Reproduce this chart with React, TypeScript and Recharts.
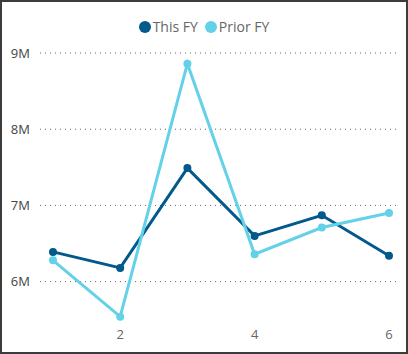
import { LineChart, Line, XAxis, YAxis, CartesianGrid } from 'recharts'

const periods = [1, 2, 3, 4, 5, 6]
const thisFy = [6.39e6, 6.18e6, 7.49e6, 6.6e6, 6.87e6, 6.34e6]
const priorFy = [6.28e6, 5.54e6, 8.86e6, 6.36e6, 6.71e6, 6.9e6]
const xTicks = [2, 4, 6]
const yTicks = [6e6, 7e6, 8e6, 9e6]

const THIS_COLOR = '#02598B'
const PRIOR_COLOR = '#63D1E8'
const FONT = '"Open Sans", "Noto Sans", sans-serif'

const chartData = periods.map((p, i) => ({
  period: p,
  'This FY': thisFy[i],
  'Prior FY': priorFy[i],
}))

function formatMillions(v: number): string {
  return `${Math.round(v / 1e6)}M`
}

function LegendRow() {
  const items = [
    { name: 'This FY', color: THIS_COLOR },
    { name: 'Prior FY', color: PRIOR_COLOR },
  ]
  return (
    <div
      style={{
        position: 'absolute',
        top: 17,
        left: 0,
        width: 408,
        display: 'flex',
        justifyContent: 'center',
        gap: 7,
        fontFamily: FONT,
        fontSize: 14,
        color: '#666',
        lineHeight: '20px',
      }}
    >
      {items.map((it) => (
        <div key={it.name} style={{ display: 'flex', alignItems: 'center' }}>
          <span
            style={{
              display: 'inline-block',
              width: 12,
              height: 12,
              borderRadius: '50%',
              background: it.color,
              marginRight: 2,
            }}
          />
          <span>{it.name}</span>
        </div>
      ))}
    </div>
  )
}

export default function App() {
  return (
    <div style={{ position: 'relative', width: 408, height: 354, background: '#fff' }}>
      <style>{'body { margin: 0; }'}</style>
      <LineChart
        width={408}
        height={354}
        data={chartData}
        margin={{ top: 40, right: 11, left: 0, bottom: 2 }}
      >
        {/* dotted guides only at the labelled values */}
        <CartesianGrid
          horizontal
          vertical={false}
          horizontalValues={yTicks}
          stroke="#666"
          strokeDasharray="1 4"
        />
        <XAxis
          dataKey="period"
          type="number"
          domain={[1, 6]}
          ticks={xTicks}
          padding={{ left: 13, right: 8 }}
          axisLine={false}
          tickLine={false}
          height={30}
          tick={{ fontSize: 13, fill: '#666', fontFamily: FONT }}
        />
        <YAxis
          domain={[5.47e6, 9.171e6]}
          ticks={yTicks}
          tickFormatter={formatMillions}
          axisLine={false}
          tickLine={false}
          width={40}
          tickMargin={4}
          allowDataOverflow
          tick={{ fontSize: 13, fill: '#444', fontFamily: FONT }}
        />
        <Line
          type="linear"
          dataKey="This FY"
          stroke={THIS_COLOR}
          strokeWidth={3}
          dot={{ r: 4, fill: THIS_COLOR, stroke: THIS_COLOR, strokeWidth: 0 }}
          isAnimationActive={false}
        />
        <Line
          type="linear"
          dataKey="Prior FY"
          stroke={PRIOR_COLOR}
          strokeWidth={3}
          dot={{ r: 4, fill: PRIOR_COLOR, stroke: PRIOR_COLOR, strokeWidth: 0 }}
          isAnimationActive={false}
        />
      </LineChart>
      <LegendRow />
      <div
        style={{
          position: 'absolute',
          inset: 0,
          border: '2px solid #3c3c3c',
          boxSizing: 'border-box',
          pointerEvents: 'none',
        }}
      />
    </div>
  )
}
